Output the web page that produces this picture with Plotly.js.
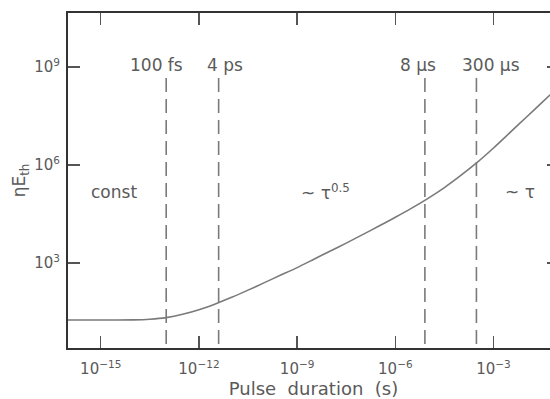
<!DOCTYPE html>
<html>
<head>
<meta charset="utf-8">
<script src="https://cdn.plot.ly/plotly-3.0.1.min.js"></script>
<style>
html,body{margin:0;padding:0;overflow:hidden;background:#fff;width:550px;height:399px;}
#chart{width:560px;height:399px;}
</style>
</head>
<body>
<div id="chart"></div>
<script>
// Curve: pulse duration (s) and threshold energy ηE_th
const pulseDuration = [1e-16, 1e-15, 1e-14, 3.16e-14, 1e-13, 3.16e-13, 1e-12, 3.16e-12, 1e-11, 3.16e-11,
  1e-10, 3.16e-10, 1e-9, 3.16e-9, 1e-8, 3.16e-8, 1e-7, 3.16e-7, 1e-6, 3.16e-6, 1e-5, 3.16e-5,
  1e-4, 3.16e-4, 1e-3, 3.16e-3, 1e-2, 3.16e-2, 1e-1];
const etaEth = [18.0, 18.0, 18.2, 19.1, 21.4, 26.9, 37.2, 56.2, 89.1, 148,
  251, 427, 724, 1290, 2290, 4070, 7410, 13500, 25100, 47900, 95500, 204000,
  479000, 1.2e6, 3.31e6, 9.77e6, 2.88e7, 8.51e7, 2.51e8];

// Regime boundaries
const markerTimes = [1e-13, 4e-12, 8e-6, 3e-4];
const markerLabels = ['100 fs', '4 ps', '8 μs', '300 μs'];
const markerTop = 4.6e8;
const markerBottom = 1;

// Regime labels
const regimeLabels = ['const', '~ τ<sup>0.5</sup>', '~ τ'];
const regimeTimes = [2.6e-15, 7.1e-9, 6.5e-3];

// Tick labels
const xTickVals = [1e-15, 1e-12, 1e-9, 1e-6, 1e-3];
const xTickText = ['10<sup>−15</sup>', '10<sup>−12</sup>', '10<sup>−9</sup>', '10<sup>−6</sup>', '10<sup>−3</sup>'];
const yTickVals = [1e3, 1e6, 1e9];
const yTickText = ['10<sup>3</sup>', '10<sup>6</sup>', '10<sup>9</sup>'];

const grey = '#7a7a7a';
const txt = '#5a5a5a';
const fontFam = 'DejaVu Sans, sans-serif';

const traces = [];
markerTimes.forEach(t => {
  traces.push({
    x: [t, t], y: [markerTop, markerBottom], mode: 'lines',
    line: {color: grey, width: 1.6, dash: '14px,7px'},
    hoverinfo: 'skip', showlegend: false
  });
});
traces.push({
  x: pulseDuration, y: etaEth, mode: 'lines',
  line: {color: grey, width: 1.6, shape: 'spline', smoothing: 0.6},
  showlegend: false
});

const labelShift = [-10, 6, -7, 15];
const annotations = markerLabels.map((s, i) => ({
  x: Math.log10(markerTimes[i]), xref: 'x', y: 0.881, yref: 'paper',
  text: s, showarrow: false, xshift: labelShift[i],
  font: {family: fontFam, size: 17, color: txt}
}));
regimeLabels.forEach((s, i) => {
  annotations.push({
    x: Math.log10(regimeTimes[i]), xref: 'x', y: 0.466, yref: 'paper',
    text: s, showarrow: false,
    font: {family: fontFam, size: 17, color: txt}
  });
});

const axisCommon = {
  type: 'log', showgrid: false, zeroline: false,
  showline: true, linecolor: '#333', linewidth: 2, mirror: 'ticks',
  ticks: 'inside', ticklen: 12, tickwidth: 1.5, tickcolor: '#555',
  tickfont: {family: fontFam, size: 15, color: txt}
};

const layout = {
  width: 560, height: 399,
  margin: {l: 68, r: 1, t: 13, b: 51},
  paper_bgcolor: '#fff', plot_bgcolor: '#fff',
  font: {family: fontFam, color: txt},
  xaxis: Object.assign({}, axisCommon, {
    range: [-16, -1], tickmode: 'array', tickvals: xTickVals, ticktext: xTickText,
    ticklabelstandoff: 6,
    title: {text: 'Pulse\u00a0 duration\u00a0 (s)', font: {family: fontFam, size: 18, color: txt}, standoff: 7}
  }),
  yaxis: Object.assign({}, axisCommon, {
    range: [0.4, 10.65], tickmode: 'array', tickvals: yTickVals, ticktext: yTickText,
    ticklabelstandoff: 3,
    title: {text: 'ηE<sub>th</sub>', font: {family: fontFam, size: 17, color: txt}, standoff: 4}
  }),
  annotations: annotations
};

Plotly.newPlot('chart', traces, layout, {displayModeBar: false, staticPlot: true});
</script>
</body>
</html>
